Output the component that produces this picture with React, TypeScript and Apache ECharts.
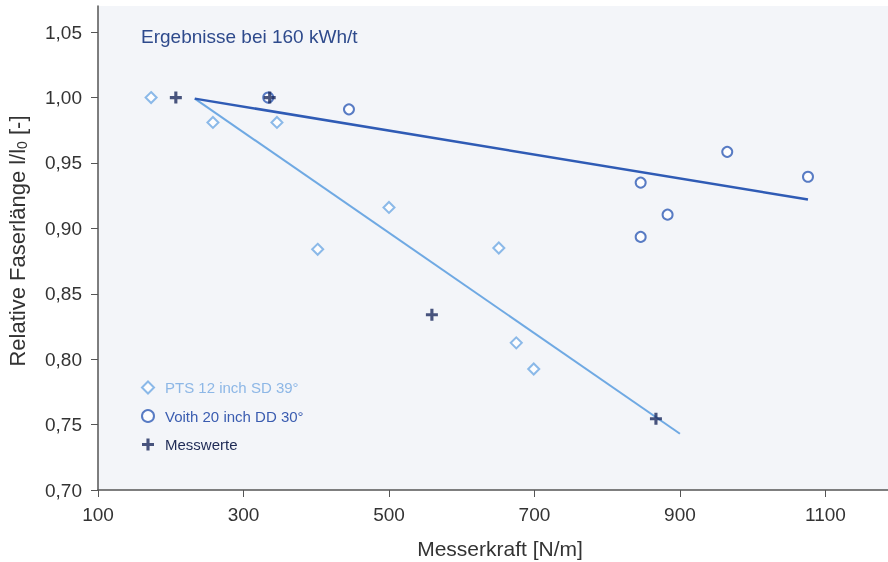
import React, { useEffect, useRef } from "react";
import * as echarts from "echarts";

const ptsData: [number, number][] = [
  [173, 1.0], [258, 0.981], [346, 0.981], [402, 0.884], [500, 0.916],
  [651, 0.885], [675, 0.8125], [699, 0.7925],
];
const voithData: [number, number][] = [
  [334, 1.0], [445, 0.991], [846, 0.935], [846, 0.8935], [883, 0.9105],
  [965, 0.9585], [1076, 0.9395],
];
const messData: [number, number][] = [
  [207, 1.0], [336, 1.0], [559, 0.834], [867, 0.7545],
];
const voithTrend: [number, number][] = [[233, 0.9992], [1076, 0.922]];
const ptsTrend: [number, number][] = [[233, 0.9992], [900, 0.743]];

const xTicks = [100, 300, 500, 700, 900, 1100];
const yTicks = [0.7, 0.75, 0.8, 0.85, 0.9, 0.95, 1.0, 1.05];

const C_PTS = "#6fa9e3";
const C_VOITH = "#2f5bb5";
const C_MESS = "#1c2b5e";
const PLUS = "path://M3.7,0H6.3V3.7H10V6.3H6.3V10H3.7V6.3H0V3.7H3.7Z";

export default function App() {
  const ref = useRef<HTMLDivElement>(null);
  useEffect(() => {
    if (!ref.current) return;
    const chart = echarts.init(ref.current, null, { renderer: "svg" });
    const font = "Liberation Sans, Arial, sans-serif";
    chart.setOption({
      animation: false,
      textStyle: { fontFamily: font },
      title: {
        text: "Ergebnisse bei 160 kWh/t",
        left: 136,
        top: 22,
        textStyle: { fontSize: 19, fontWeight: "normal", color: "#2e4a8c", fontFamily: font },
      },
      grid: {
        left: 98, top: 6, right: 0, bottom: 72,
        containLabel: false,
        outerBoundsMode: "none",
        show: true, backgroundColor: "#f3f5f9", borderWidth: 0,
      },
      legend: {
        orient: "vertical",
        left: 141,
        top: 380,
        padding: 0,
        itemGap: 13.5,
        itemWidth: 12,
        itemHeight: 12,
        data: [
          { name: "PTS 12 inch SD 39°", textStyle: { color: "#8db7e6" } },
          { name: "Voith 20 inch DD 30°", textStyle: { color: "#3a5cb0" } },
          { name: "Messwerte", textStyle: { color: "#1e2a55" } },
        ],
        textStyle: { fontSize: 15, fontFamily: font, padding: [0, 0, 0, 6] },
      },
      xAxis: {
        type: "value",
        min: 100,
        max: 1186,
        interval: 200,
        name: "Messerkraft [N/m]",
        nameLocation: "middle",
        nameGap: 48,
        nameTextStyle: { fontSize: 21, color: "#333", fontFamily: font, padding: [0, 0, 0, 14] },
        splitLine: { show: false },
        axisLine: { show: true, lineStyle: { color: "#555", width: 1.5 } },
        axisTick: { show: true, length: 7, lineStyle: { color: "#555" } },
        axisLabel: {
          fontSize: 19, color: "#333", margin: 15, showMaxLabel: false,
          formatter: (v: number) => (xTicks.includes(v) ? String(v) : ""),
        },
      },
      yAxis: {
        type: "value",
        min: 0.7,
        max: 1.07,
        interval: 0.05,
        name: "Relative Faserlänge l/l{sub|0} [-]",
        nameLocation: "middle",
        nameGap: 69,
        nameTextStyle: {
          fontSize: 22, color: "#333", fontFamily: font, padding: [0, 0, 0, 14],
          rich: { sub: { fontSize: 14, color: "#333", verticalAlign: "bottom", padding: [10, 0, 0, 0] } },
        },
        splitLine: { show: false },
        axisLine: { show: true, lineStyle: { color: "#555", width: 1.5 } },
        axisTick: { show: true, length: 7, lineStyle: { color: "#555" } },
        axisLabel: {
          fontSize: 19, color: "#333", margin: 16, showMaxLabel: false,
          formatter: (v: number) => {
            const hit = yTicks.find((t) => Math.abs(t - v) < 1e-6);
            return hit === undefined ? "" : hit.toFixed(2).replace(".", ",");
          },
        },
      },
      series: [
        {
          name: "PTS-Trend", type: "line", data: ptsTrend, symbol: "none",
          lineStyle: { color: C_PTS, width: 2 }, silent: true, z: 1,
        },
        {
          name: "Voith-Trend", type: "line", data: voithTrend, symbol: "none",
          lineStyle: { color: C_VOITH, width: 2.5 }, silent: true, z: 1,
        },
        {
          name: "PTS 12 inch SD 39°", type: "scatter", data: ptsData,
          symbol: "emptyDiamond", symbolSize: 11,
          itemStyle: { color: C_PTS, borderColor: C_PTS, borderWidth: 2 }, z: 3,
        },
        {
          name: "Voith 20 inch DD 30°", type: "scatter", data: voithData,
          symbol: "emptyCircle", symbolSize: 10,
          itemStyle: { color: C_VOITH, borderColor: C_VOITH, borderWidth: 2.5 }, z: 3,
        },
        {
          name: "Messwerte", type: "scatter", data: messData,
          symbol: PLUS, symbolSize: 12,
          itemStyle: { color: C_MESS }, z: 4,
        },
      ],
    });
    return () => chart.dispose();
  }, []);
  return (
    <div
      ref={ref}
      style={{ position: "fixed", left: 0, top: 0, width: 888, height: 562 }}
    />
  );
}
